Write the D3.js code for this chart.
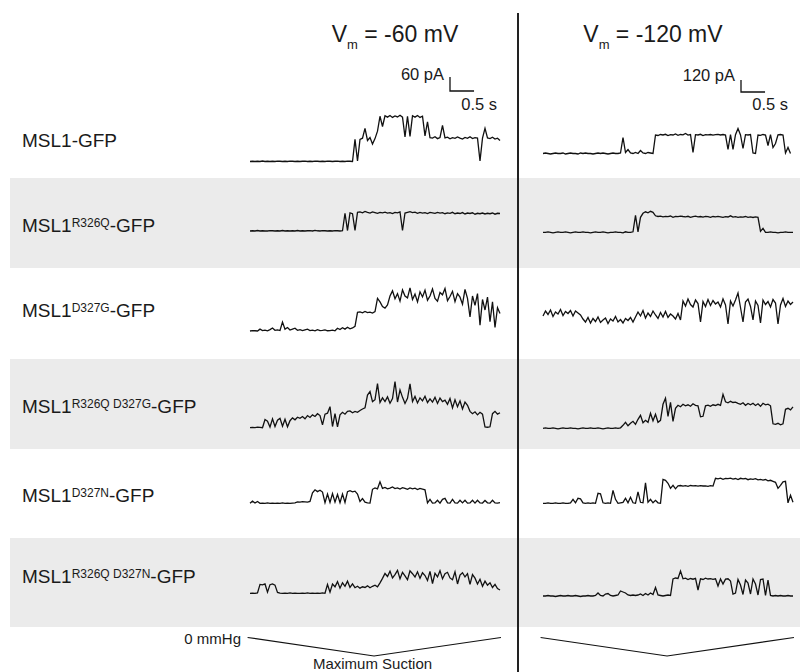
<!DOCTYPE html>
<html><head><meta charset="utf-8">
<script src="https://cdn.jsdelivr.net/npm/d3@7"></script>
<style>body{margin:0;background:#fff}svg{display:block}</style>
</head><body>
<svg id="c" width="800" height="672"></svg>
<script>
// ---------- data ----------
const dt = 0.052;            // seconds per sample
const traceSpan = 5.2;       // seconds shown per trace
const voltages = ["-60", "-120"];
const scaleCurrent = [60, 120];   // pA scale bars
const scaleTime = 0.5;            // s scale bar
const labelBase = ["MSL1","MSL1","MSL1","MSL1","MSL1","MSL1"];
const labelSup = ["", "R326Q", "D327G", "R326Q D327G", "D327N", "R326Q D327N"];
const labelSuffix = ["-GFP","-GFP","-GFP","-GFP","-GFP","-GFP"];
const suctionT = [-0.05, 2.58, 5.22];
const suctionP = [0, 1, 0];

// currents in pA, -60 mV column
const L1 = [0,1,0,1,0,2,0,1,0,1, 0,2,1,0,1,0,2,1,0,1, 0,1,2,0,1,0,2,1,0,1, 0,2,1,0,1,2,0,1,0,2,
  1,0,95,2,95,100,142,90,103,75, 98,130,194,150,196,190,197,189,195,191, 198,190,105,194,108,196,190,197,189,194,
  110,170,102,100,106,98,103,155,101,104, 97,102,99,105,100,96,103,99,106,98, 102,100,2,100,142,101,98,104,96,100, 90];
const L2 = [0,1,0,2,0,1,0,0,2,1, 0,1,0,2,0,1,0,1,0,2, 0,1,0,1,2,0,3,1,0,2, 1,0,1,0,2,1,0,1,
  76,2, 78,74,3,80,82,78,84,80,77,82, 79,76,80,78,81,77,79,75,80,78, 82,2,77,80,83,79,81,76,80,77,
  79,75,80,78,76,80,77,79,74,78, 76,80,74,77,75,79,73,77,75,78, 72,76,74,77,73,76,74,77,72,76, 75];
const L3 = [0,2,1,0,8,2,4,1,6,13, 3,5,2,38,8,15,4,8,12,3, 6,2,5,8,2,4,1,6,2,3, 5,1,2,4,1,12,6,14,8,16,
  9,13,20,80,82,78,84,79,81,77, 83,140,125,105,98,112,
  150,172,138,160,128,176,150,142,185,135,158,125,168,146,175,132,150,180,140,128,165,155,182,130,148,170,126,160,145,115,178,140,
  60,150,110,160,25,135,90,145,40,125,15,100,75];
const L4 = [0,1,0,2,1,0, 35,28,3,38, 5,32,40,6,36,4,30,42,34,45, 40,48,38,52,44,55,48,60,52,12,
  58,62,90,5,60,4,55,66,58,70, 72,64,70,66,74,80,85, 140,155,112, 120,189,
  108,128,112,132,105,125,198,110,162,130,104,126,188,112,134,106,128,115,135,108,124,110,130,104,127,112,118,100,125,85,120,90,115,80,110,96,
  70,60,68,55,66,58, 3,2,4, 60,70,58,64];
const L5 = [0,9,1,8,0,1,0,2,0,1, 0,1,0,2,0,1,0,1,2,6, 5,7,6,5,8,45,58,50,56,48, 3,40,4,42,5,38,3,40,4,50,
  54,49,52,40,8,20,5,2,1,60, 66,62,92,64,68,62,65,70,63,66, 61,67,64,60,66,62,65,59,64,61,
  58,2,17,1,2,13,1,17,21,2, 1,17,2,1,13,2,13,1,2,13, 1,13,2,1,12,2,1,13,2,1, 3];
const L6 = [0,1,0,2,38,36,40,5,37,40,35,4,1, 0,1,0,2,0,1,0,0,1,0,2,0,1,0,1,0,2,0,
  38,5,40,28,50,22,45,30,52, 25,40,24,30,22,28,25,32,24,30, 35,28,45,
  64,85,72,95,66,80,98,62,90,75,58,96,84,70,92,64,88,76,55,94,42,86,70,97,62,84,90,66,58,92,40,78,88,70,84,38,80,65,
  40,60,30,52,35,45,25,38,20,14];

// currents in pA, -120 mV column
const R1 = [0,5,0,-5,0,5,0,0,5,-5, 0,5,0,0,-5,5,0,5,0,0, -5,0,5,0,5,0,-5,0,5,0, 0,5,
  160,10,40,5,0,10,0,30, 5,0,10,5,0, 185,180,190,185,192, 180,188,185,195,182,190,186,200,184,190,
  10,188,185,192,180,188,186,190,183,188, 192,185,190,184,40,190,40,188,250,185,
  50,188,185,190,5,0,185,182,190,185, 80,188,60,100,186,190,185,5,60,0];
const R2 = [0,0,5,0,-5,0,5,0,0,5, 0,-5,0,5,0,0,5,0,0,-5, 0,5,0,0,5,0,-5,0,0,5, 0,0,-5,5,0,0,
  5,170,5,150, 190,205,195,210,200,165,158,162,155,160, 157,163,150,160,156,162,158,155,160,150,
  157,161,155,158,152,160,156,150,158,154, 160,155,150,157,153,165,152,156,150,155, 152,158,150,154,148,155,150,
  10,40,0, 0,5,0,0,-5,0,0,5,0,0,0];
const R3 = [100,150,115,160,95,140,120,165,105,145,125,155,100,150,130,110,
  70,40,85,30,75,45,90,35,60,80,25,70,50,95,40,65,30,75,55,85,40,
  90,140,100,155,80,130,95,150,110,75,135,90,145,85,120,100,70,125,60,
  250,200,270,215,190,260,225,40,245,195,265,205,255,220,240,190,270,210,20,250,200,260,330,185,40,240,270,195,60,250,205,30,260,215,245,190,265,230,20,210,275,195,250,215,240];
const R4 = [0,5,0,0,5,0,-5,0,5,0, 0,5,0,0,-5,0,5,0,0,5, 0,0,5,0,-5,0,5,0,0,5, 0,5,
  30,60,25,50,70,40,90,130, 55,80,60,150,75,140,60,80, 240,300,
  120,260,70,200,230,215,240,225,235,220, 245,230,225,115,120,225,232,220,235,228,
  240,230,340,265,255,270,258,262,250,240, 255,230,248,235,250,228,245,220,250,235, 242,225,
  45,40,50,35,45,190,200,185,215];
const R5 = [0,0,5,0,0,5,0,0,5,0,0,5, 40,5,50,45,5,0,5,0, 5,0,100,95,5,0,5,0,130,40,
  0,5,10,50,5,60,5,0,115,10, 5,205,10,40,5,30,5,0, 240,230,
  200,150,180,145,175,178,172,176,170,178, 174,176,172,177,173,175,170,176,172,
  250,245,252,240,250,246,252,242,248,238,250, 244,248,236,245,240,246,235,240,232,238,
  225,230,220,210,150,180,215,220, 5,80,10];
const R6 = [0,0,5,0,0,-5,0,5,0,0,5,0,0,5,0,-5,0,0,5,0,0,
  5,30,5,0,20,25,5,0,5, 10,50,40,30,10,5,10,5,10,20, 5,25,10,30,15,85,10,5,0,5,10,5,
  170,180,175,250,172,178,165,175, 168,176,60,172,165,178,170,174,166,172,
  100,170,120,168,172,150,20,30,165,110, 15,160,130,20,170,120,10,165,170,5,
  160,5,0,5,0,5,0,0,5,0,0];

const leftTraces = [L1, L2, L3, L4, L5, L6];
const rightTraces = [R1, R2, R3, R4, R5, R6];

// ---------- layout ----------
const W = 800, H = 672;
const FONT = "'Liberation Sans', Arial, Helvetica, sans-serif";
const svg = d3.select("#c");
const bands = [[178, 268], [359, 449], [538, 627]];
const labelY = [147, 231.7, 316.7, 412.7, 501.7, 582.7];
const leftBase = [161.5, 231, 331, 427.7, 503.3, 593.3];
const rightBase = [153.5, 232.3, 326, 428.3, 503.3, 596];
const colRange = [[250, 500], [543, 793]];
const pxPerScale = [14, 12];

// gray bands
svg.selectAll("rect.band").data(bands).join("rect")
  .attr("x", 10).attr("y", d => d[0]).attr("width", W - 10).attr("height", d => d[1] - d[0])
  .attr("fill", "#ebebeb");

// row labels
const lab = svg.selectAll("text.lab").data(labelBase).join("text")
  .attr("x", 22).attr("y", (d, i) => labelY[i])
  .attr("font-family", FONT).attr("font-size", 19).attr("fill", "#1a1a1a");
lab.each(function(d, i) {
  const t = d3.select(this);
  t.append("tspan").text(d);
  if (labelSup[i]) {
    t.append("tspan").attr("font-size", 12).attr("dy", -5).text(labelSup[i]);
    t.append("tspan").attr("dy", 5).text(labelSuffix[i]);
  } else {
    t.append("tspan").text(labelSuffix[i]);
  }
});

// traces
const cols = [leftTraces, rightTraces];
cols.forEach((traces, c) => {
  const x = d3.scaleLinear().domain([0, traceSpan]).range(colRange[c]);
  const bases = c === 0 ? leftBase : rightBase;
  traces.forEach((tr, r) => {
    const y = d3.scaleLinear().domain([0, scaleCurrent[c]]).range([bases[r], bases[r] - pxPerScale[c]]);
    const line = d3.line().x((d, i) => x(i * dt)).y(d => y(d));
    svg.append("path").attr("d", line(tr))
      .attr("fill", "none").attr("stroke", "#111").attr("stroke-width", 1.3);
  });
});

// titles
const titleX = [331.7, 583.3];
voltages.forEach((v, c) => {
  const t = svg.append("text").attr("x", titleX[c]).attr("y", 42)
    .attr("font-family", FONT).attr("font-size", 23).attr("fill", "#1a1a1a");
  t.append("tspan").text("V");
  t.append("tspan").attr("font-size", 13).attr("dy", 6.5).text("m");
  t.append("tspan").attr("dy", -6.5).text(" = " + v + " mV");
});

// scale bars
const barX = [450, 741], barBottom = [91, 92];
[0, 1].forEach(c => {
  const x = d3.scaleLinear().domain([0, traceSpan]).range(colRange[c]);
  const y = d3.scaleLinear().domain([0, scaleCurrent[c]]).range([0, pxPerScale[c]]);
  const bx = barX[c], by = barBottom[c];
  const hl = x(scaleTime) - x(0), vl = y(scaleCurrent[c]);
  svg.append("path").attr("d", `M${bx},${by - vl}V${by}H${bx + hl}`)
    .attr("fill", "none").attr("stroke", "#111").attr("stroke-width", 1.3);
  svg.append("text").attr("x", bx - 6).attr("y", by - 11).attr("text-anchor", "end")
    .attr("font-family", FONT).attr("font-size", 16.5).attr("fill", "#1a1a1a")
    .text(scaleCurrent[c] + " pA");
  svg.append("text").attr("x", bx + hl + 23).attr("y", 109.5).attr("text-anchor", "end")
    .attr("font-family", FONT).attr("font-size", 16.5).attr("fill", "#1a1a1a")
    .text(scaleTime + " s");
});

// divider
svg.append("line").attr("x1", 518).attr("x2", 518).attr("y1", 13).attr("y2", H)
  .attr("stroke", "#222").attr("stroke-width", 2);

// suction ramps
[0, 1].forEach(c => {
  const x = d3.scaleLinear().domain([0, traceSpan]).range(colRange[c]);
  const y = d3.scaleLinear().domain([0, 1]).range([637.5, 656]);
  const line = d3.line().x(d => x(d[0])).y(d => y(d[1]));
  svg.append("path").attr("d", line(suctionT.map((t, i) => [t, suctionP[i]])))
    .attr("fill", "none").attr("stroke", "#111").attr("stroke-width", 1.2);
});
svg.append("text").attr("x", 241).attr("y", 643.5).attr("text-anchor", "end")
  .attr("font-family", FONT).attr("font-size", 15).attr("fill", "#1a1a1a").text("0 mmHg");
svg.append("text").attr("x", 372.5).attr("y", 669).attr("text-anchor", "middle")
  .attr("font-family", FONT).attr("font-size", 15).attr("fill", "#1a1a1a").text("Maximum Suction");
</script>
</body></html>
